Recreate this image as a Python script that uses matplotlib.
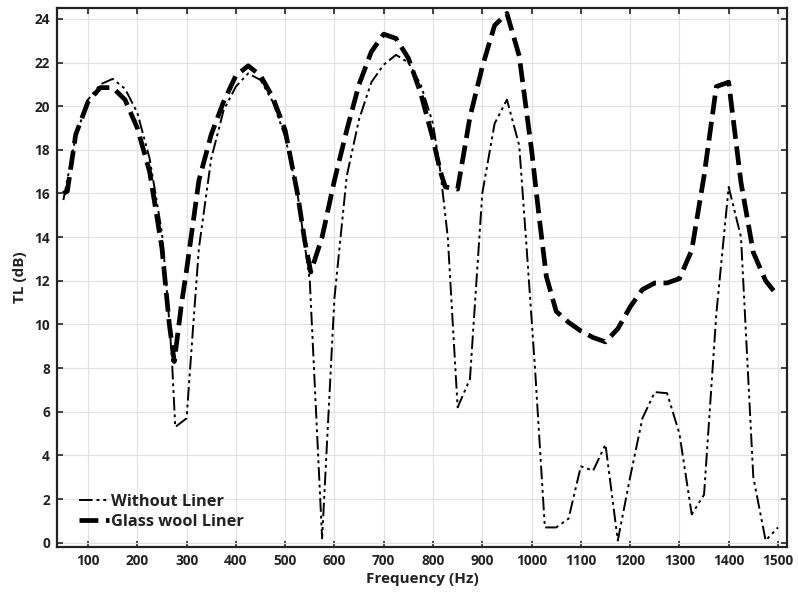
import matplotlib
matplotlib.use("Agg")
import matplotlib.pyplot as plt

plt.rcParams['font.family'] = ['Open Sans', 'DejaVu Sans']

# Without Liner (dash-dot)
freq_without = [50, 75, 100, 125, 150, 175, 200, 225, 250, 262, 270, 277, 300, 312, 325,
                350, 375, 400, 425, 450, 475, 500, 525, 550, 575, 600, 625, 650, 675, 700,
                725, 750, 775, 800, 815, 830, 850, 875, 900, 925, 950, 975, 990, 1007, 1027,
                1050, 1075, 1100, 1125, 1150, 1175, 1200, 1225, 1250, 1275, 1300, 1325, 1350,
                1375, 1400, 1425, 1450, 1475, 1500]
tl_without = [15.7, 18.6, 20.3, 21.0, 21.25, 20.8, 19.7, 17.6, 14.2, 11.0, 8.5, 5.3, 5.7, 9.5, 13.5,
              17.6, 19.8, 20.9, 21.5, 21.2, 20.2, 18.6, 16.0, 12.0, 0.2, 11.2, 16.8, 19.4, 21.1, 21.9,
              22.35, 22.0, 21.0, 19.2, 17.0, 14.0, 6.2, 7.5, 16.0, 19.2, 20.3, 18.2, 13.5, 8.0, 0.7,
              0.7, 1.1, 3.5, 3.3, 4.5, 0.1, 3.0, 5.7, 6.9, 6.85, 5.0, 1.3, 2.2,
              10.5, 16.3, 14.0, 3.0, 0.1, 0.7]

# Glass wool Liner (dashed)
freq_glass = [50, 58, 75, 100, 125, 150, 175, 200, 225, 250, 265, 275, 290, 300, 325, 350, 375, 400,
              425, 450, 475, 500, 525, 540, 552, 575, 600, 625, 650, 675, 700, 725, 750, 775,
              800, 815, 825, 850, 875, 900, 925, 950, 975, 1000, 1015, 1030, 1050, 1075, 1100,
              1125, 1150, 1175, 1200, 1225, 1250, 1275, 1300, 1325, 1350, 1375, 1400, 1425,
              1450, 1475, 1500]
tl_glass = [16.0, 16.1, 18.7, 20.2, 20.85, 20.85, 20.3, 19.0, 17.0, 13.5, 10.0, 8.3, 11.0, 12.5, 16.6,
            18.7, 20.2, 21.4, 21.85, 21.4, 20.4, 18.9, 16.0, 13.8, 12.4, 14.0, 16.6, 18.9, 21.0,
            22.5, 23.3, 23.1, 22.2, 20.6, 18.5, 17.0, 16.3, 16.2, 19.5, 21.8, 23.7, 24.25, 22.3,
            18.0, 15.0, 12.2, 10.6, 10.1, 9.7, 9.4, 9.2, 9.8, 10.8, 11.6, 11.9, 11.9, 12.1, 13.4,
            16.8, 20.9, 21.1, 16.5, 13.3, 12.0, 11.3]

x_ticks = list(range(100, 1501, 100))
y_ticks = list(range(0, 25, 2))

fig = plt.figure(figsize=(7.98, 5.94), dpi=100)
ax = fig.add_axes([0.0714, 0.079, 0.9146, 0.9076])

ax.plot(freq_without, tl_without, color='black', linewidth=1.4,
        linestyle=(0, (7, 2, 1.5, 2, 1.5, 2)), label='Without Liner')
ax.plot(freq_glass, tl_glass, color='black', linewidth=3.4,
        linestyle=(0, (4, 1.6)), label='Glass wool Liner')

ax.set_xlim(37, 1518)
ax.set_ylim(-0.2, 24.5)
ax.set_xticks(x_ticks)
ax.set_yticks(y_ticks)
ax.grid(True, color='#e2e2e2', linewidth=0.9)
ax.set_axisbelow(True)

ax.tick_params(direction='in', length=4, width=1.2, top=True, right=True,
               labelsize=9.8, colors='#222222', pad=5)
for lbl in ax.get_xticklabels() + ax.get_yticklabels():
    lbl.set_fontweight('bold')
for s in ax.spines.values():
    s.set_linewidth(1.6)
    s.set_color('#222222')

ax.set_xlabel('Frequency (Hz)', fontsize=11, fontweight='bold', color='#222222', labelpad=3)
ax.set_ylabel('TL (dB)', fontsize=11, fontweight='bold', color='#222222', labelpad=5)

leg = ax.legend(loc='lower left', bbox_to_anchor=(0.01, 0.005), frameon=False,
                handlelength=1.8, handletextpad=0.15, labelspacing=0.25,
                prop={'weight': 'bold', 'size': 11.8})
for t in leg.get_texts():
    t.set_color('#222222')

fig.savefig('out.png', dpi=100)
